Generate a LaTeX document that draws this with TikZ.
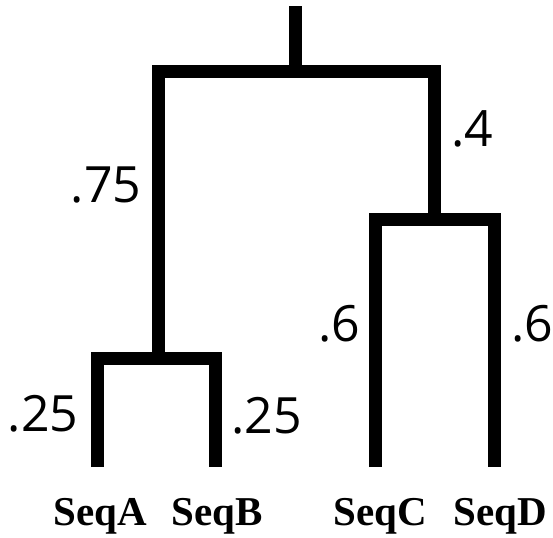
\documentclass[tikz,border=0pt]{standalone}
\usepackage{fontspec}
\setmainfont{Open Sans}
\newfontfamily\leaffont{Liberation Serif}
\begin{document}
\begin{tikzpicture}[x=1pt,y=-1pt,
  branch/.style={line width=13pt, line join=miter, line cap=butt},
  weight/.style={anchor=base, inner sep=0pt, font=\fontsize{50}{60}\selectfont},
  leaf/.style={anchor=base, inner sep=0pt, font=\leaffont\bfseries\fontsize{41}{48}\selectfont}]
\useasboundingbox (0,0) rectangle (553,537);

% internal nodes of the tree
\coordinate (top)  at (295.5,6);
\coordinate (root) at (295.5,71.5);
\coordinate (nAB)  at (158.5,358.5);
\coordinate (nCD)  at (434.5,219);

% leaf tips
\coordinate (tA) at (97.5,467);
\coordinate (tB) at (215.5,467);
\coordinate (tC) at (375.5,467);
\coordinate (tD) at (494,467);

% branches
\draw[branch] (root) -- (top);
\draw[branch] (nAB) |- (root) -| (nCD);
\draw[branch] (tA) |- (nAB) -| (tB);
\draw[branch] (tC) |- (nCD) -| (tD);

% branch lengths
\node[weight] (wAB) at (106,203) {.75};
\node[weight] (wCD) at (472,147) {.4};
\node[weight] (wA)  at (43,431)  {.25};
\node[weight] (wB)  at (266.5,433) {.25};
\node[weight] (wC)  at (339,341) {.6};
\node[weight] (wD)  at (532.5,341) {.6};

% leaf names
\node[leaf] (SeqA) at (100,525)   {SeqA};
\node[leaf] (SeqB) at (217.5,525) {SeqB};
\node[leaf] (SeqC) at (380,525)   {SeqC};
\node[leaf] (SeqD) at (500,525)   {SeqD};
\end{tikzpicture}
\end{document}
